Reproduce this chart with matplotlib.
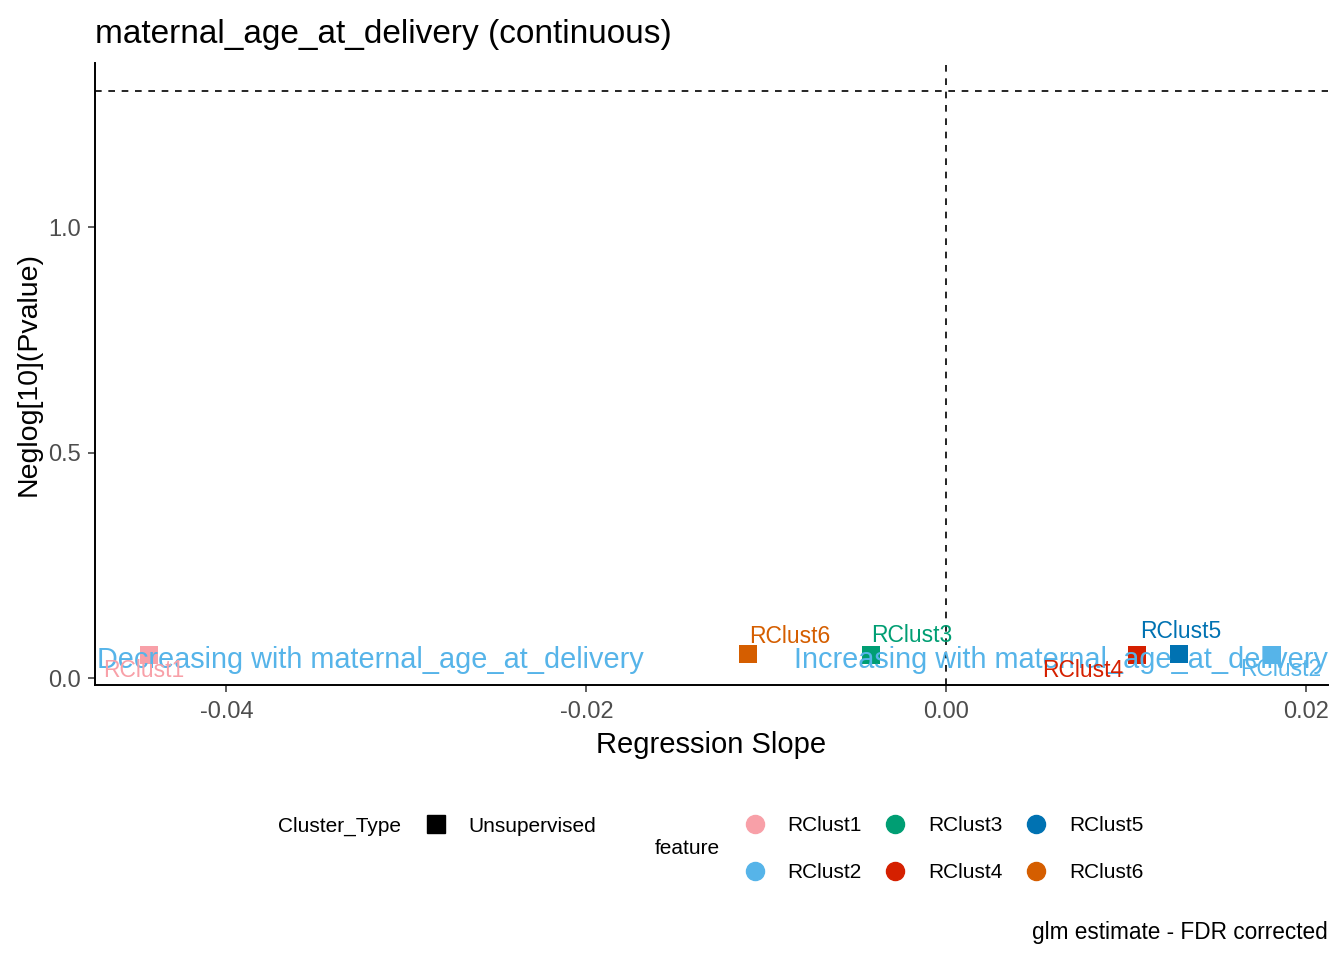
import matplotlib
matplotlib.use("Agg")
import matplotlib.pyplot as plt
from matplotlib.lines import Line2D

plt.rcParams["font.family"] = ["Liberation Sans", "DejaVu Sans"]

# =========================
# DATA
# =========================
features = ["RClust1", "RClust2", "RClust3", "RClust4", "RClust5", "RClust6"]
slopes = [-0.0443, 0.0181, -0.0042, 0.0106, 0.0129, -0.0110]
neglog_p = [0.051, 0.052, 0.052, 0.052, 0.053, 0.053]
colors = ["#F8A0A8", "#56B4E9", "#009E73", "#D52000", "#0072B2", "#D55E00"]
# label offsets in points (repel-ish placement)
label_dx = [-3.6, 5.8, 29.5, -39.6, 1.4, 29.5]
label_dy = [-11.0, -11.0, 13.7, -11.5, 16.5, 13.0]

xlim = (-0.0473, 0.0212)
ylim = (-0.0155, 1.364)
p_cut = 1.301  # -log10(0.05)

W, H = 1344, 960

# =========================
# FIGURE
# =========================
fig = plt.figure(figsize=(13.44, 9.6), dpi=100)
ax = fig.add_axes([95 / W, 1 - 685 / H, (1328 - 95) / W, (685 - 63) / H])

ax.axhline(p_cut, color="black", linestyle=(0, (4, 4)), linewidth=1.2)
ax.axvline(0, color="black", linestyle=(0, (4, 4)), linewidth=1.2)

for x, y, c in zip(slopes, neglog_p, colors):
    ax.scatter(x, y, marker="s", s=180, color=c, zorder=3, linewidths=0)

ax.text(xlim[0] + 0.0001, 0.04, "Decreasing with maternal_age_at_delivery",
        color="#56B4E9", fontsize=20.8, ha="left", va="center", zorder=4)
ax.text(xlim[1], 0.04, "Increasing with maternal_age_at_delivery",
        color="#56B4E9", fontsize=20.8, ha="right", va="center", zorder=4)

for f, x, y, c, dx, dy in zip(features, slopes, neglog_p, colors, label_dx, label_dy):
    ax.annotate(f, (x, y), xytext=(dx, dy), textcoords="offset points",
                color=c, fontsize=16.5, ha="center", va="center", zorder=5)

ax.set_xlim(*xlim)
ax.set_ylim(*ylim)
ax.set_xticks([-0.04, -0.02, 0.00, 0.02])
ax.set_xticklabels(["-0.04", "-0.02", "0.00", "0.02"])
ax.set_yticks([0.0, 0.5, 1.0])
ax.set_yticklabels(["0.0", "0.5", "1.0"])
ax.tick_params(labelsize=17, labelcolor="#4D4D4D", color="#333333", length=5, width=1.1)
ax.tick_params(axis="x", pad=6.5)
ax.tick_params(axis="y", pad=5)
for s in ["top", "right"]:
    ax.spines[s].set_visible(False)
for s in ["left", "bottom"]:
    ax.spines[s].set_linewidth(1.4)

ax.set_xlabel("Regression Slope", fontsize=21, labelpad=5.5)
ax.set_ylabel("Neglog[10](Pvalue)", fontsize=20.5, labelpad=5)
fig.text(95 / W, 1 - 34 / H, "maternal_age_at_delivery (continuous)", fontsize=24,
         ha="left", va="center")

# =========================
# LEGENDS
# =========================
fs = 15
fig.text(278 / W, 1 - 826 / H, "Cluster_Type", fontsize=fs, va="center", ha="left")
sq = [Line2D([], [], marker="s", color="black", linestyle="none", markersize=13)]
fig.legend(sq, ["Unsupervised"], loc="center left", bbox_to_anchor=(415 / W, 1 - 826 / H),
           frameon=False, fontsize=fs, handletextpad=0.58, borderaxespad=0, borderpad=0)

fig.text(655 / W, 1 - 849 / H, "feature", fontsize=fs, va="center", ha="left")
circ = [Line2D([], [], marker="o", color=c, linestyle="none", markersize=13) for c in colors]
fig.legend(circ, features, ncol=3, loc="center left", bbox_to_anchor=(734 / W, 1 - 849 / H),
           frameon=False, fontsize=fs, handletextpad=0.58, columnspacing=0.6,
           labelspacing=1.35, borderaxespad=0, borderpad=0)

fig.text(1328 / W, 1 - 933 / H, "glm estimate - FDR corrected", fontsize=16.3,
         ha="right", va="center")

fig.savefig("out.png", dpi=100)
